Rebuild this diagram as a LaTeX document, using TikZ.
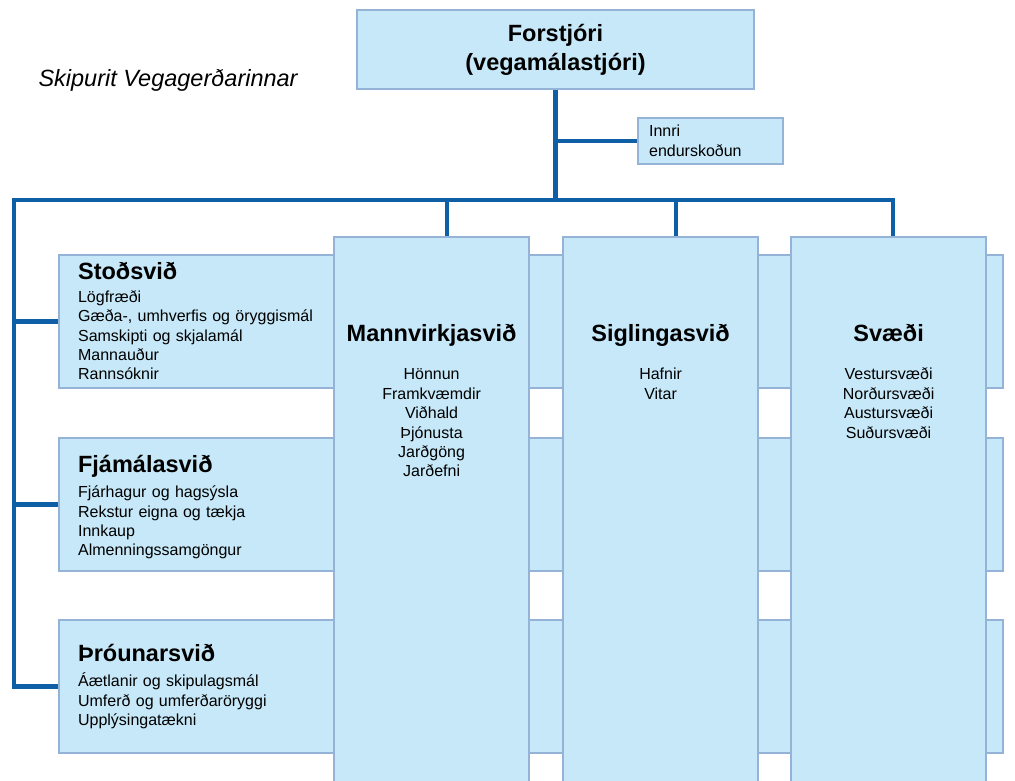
\documentclass[tikz,border=0pt]{standalone}
\usepackage{fontspec}
\setmainfont{Liberation Sans}
\usetikzlibrary{positioning}
\definecolor{boxfill}{HTML}{C6E8F8}
\definecolor{boxline}{HTML}{95B3D7}
\definecolor{linkblue}{HTML}{0F5FA6}
\tikzset{
  unitbox/.style={draw=boxline, fill=boxfill, line width=2.2pt, rectangle, inner sep=0pt},
  rowbox/.style={unitbox, anchor=north west, minimum height=132.5pt, text width=906pt,
    inner xsep=19pt, align=left, font=\fontsize{16}{19.4}\selectfont},
  colbox/.style={unitbox, anchor=north west, minimum width=195pt, minimum height=560pt},
  coltext/.style={anchor=north, align=center, inner sep=0pt, font=\fontsize{16}{19.4}\selectfont},
  link/.style={draw=linkblue, line width=4.5pt},
}
\newcommand{\unithead}[1]{{\fontsize{23.5}{24}\selectfont\bfseries #1}}
\begin{document}
\begin{tikzpicture}[x=1pt,y=-1pt]
  \useasboundingbox (0,0) rectangle (1015,780);
  \node[anchor=base west, font=\fontsize{23.5}{28}\selectfont\itshape] (title) at (35,86) {Skipurit Vegagerðarinnar};
  \node[unitbox, minimum width=397pt, minimum height=79pt, align=center,
    font=\fontsize{23.5}{29}\selectfont\bfseries] (forst) at (555.5,49.5) {Forstjóri\\(vegamálastjóri)};
  \node[unitbox, anchor=north west, minimum height=46pt, text width=123pt, inner xsep=11pt,
    align=left, font=\fontsize{16}{20}\selectfont] (innri) at (637,117) {Innri\\endurskoðun};
  % svid til vinstri
  \node[rowbox] (stod) at (58,254) {\unithead{Stoðsvið}\\[3pt]
    Lögfræði\\Gæða-, umhverfis og öryggismál\\Samskipti og skjalamál\\Mannauður\\Rannsóknir};
  \node[rowbox] (fjam) at (58,437) {\rule{0pt}{23pt}\unithead{Fjámálasvið}\\[6pt]
    Fjárhagur og hagsýsla\\Rekstur eigna og tækja\\Innkaup\\Almenningssamgöngur};
  \node[rowbox] (throun) at (58,619) {\unithead{Þróunarsvið}\\[6pt]
    Áætlanir og skipulagsmál\\Umferð og umferðaröryggi\\Upplýsingatækni};
  % svid i dalkum
  \node[colbox] (mann) at (333,236) {};
  \node[colbox] (sigl) at (562,236) {};
  \node[colbox] (svaedi) at (790,236) {};
  \node[coltext, below=88pt of mann.north] (manntext) {\unithead{Mannvirkjasvið}\\[19pt]
    Hönnun\\Framkvæmdir\\Viðhald\\Þjónusta\\Jarðgöng\\Jarðefni};
  \node[coltext, below=88pt of sigl.north] (sigltext) {\unithead{Siglingasvið}\\[19pt]
    Hafnir\\Vitar};
  \node[coltext, below=88pt of svaedi.north] (svaeditext) {\unithead{Svæði}\\[19pt]
    Vestursvæði\\Norðursvæði\\Austursvæði\\Suðursvæði};
  \coordinate (busL) at (14,200);
  \begin{scope}[link]
    \draw (forst.south) -- (forst.south |- busL);
    \draw (forst.south |- innri.west) -- (innri.west);
    \draw (throun.west) -| (busL) -| ([xshift=4.5pt]svaedi.north);
    \draw (busL |- stod.west) -- (stod.west);
    \draw (busL |- fjam.west) -- (fjam.west);
    \draw ([xshift=15.5pt]mann.north |- busL) -- ([xshift=15.5pt]mann.north);
    \draw ([xshift=15.5pt]sigl.north |- busL) -- ([xshift=15.5pt]sigl.north);
  \end{scope}
\end{tikzpicture}
\end{document}
